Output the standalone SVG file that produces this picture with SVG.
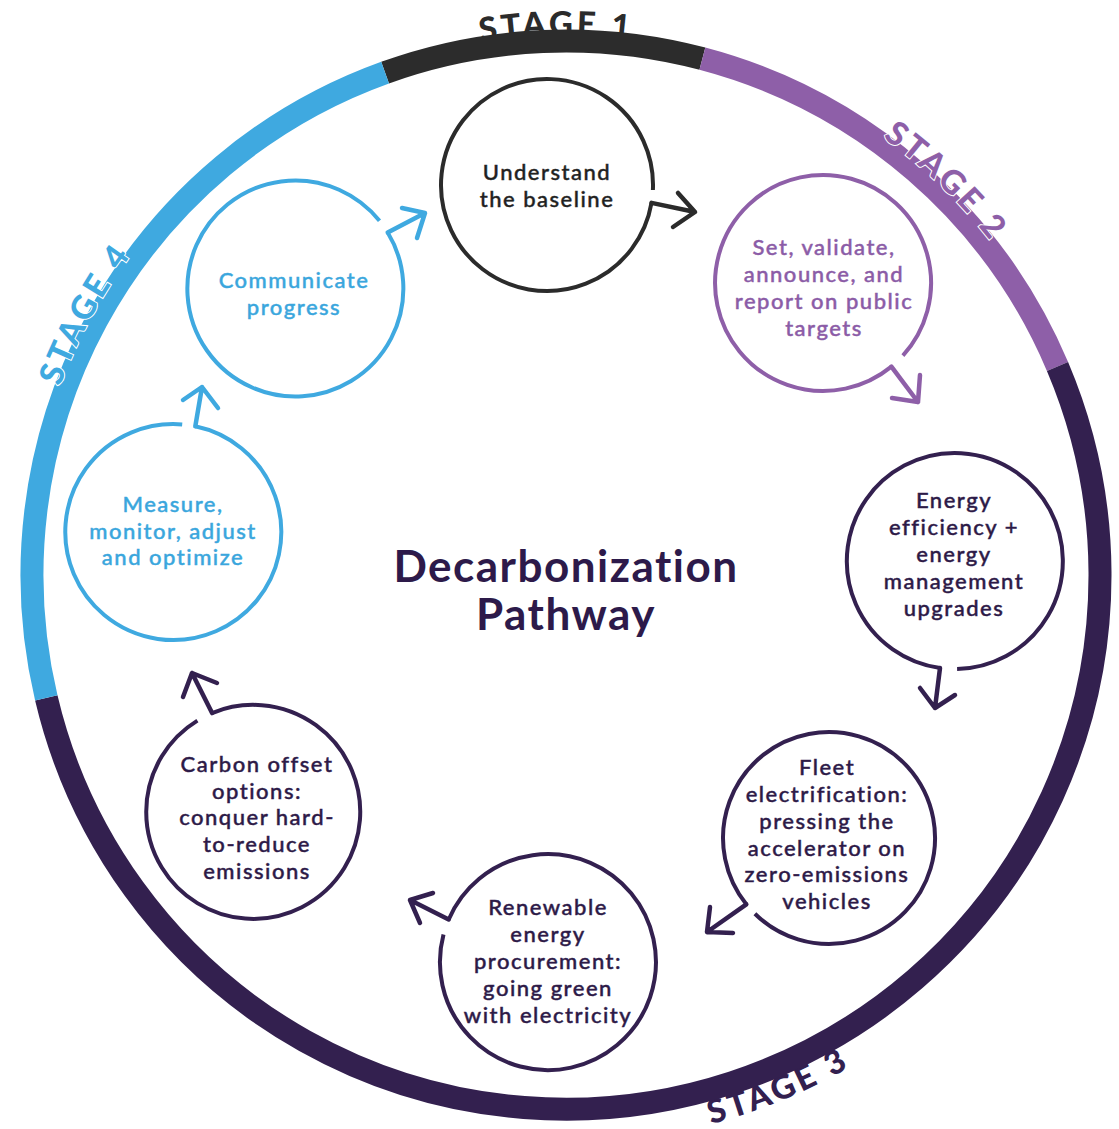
<svg xmlns="http://www.w3.org/2000/svg" width="1119" height="1129" viewBox="0 0 1119 1129">
  <style>
    .ring{fill:none;stroke-width:23}
    .label{font-family:Lato,"Liberation Sans",sans-serif;font-size:22px;font-weight:500;text-anchor:middle;letter-spacing:1.5px}
    .stage{font-family:Lato,"Liberation Sans",sans-serif;font-size:33px;font-weight:900;letter-spacing:3.5px;text-anchor:middle}
    .halo{stroke:#fff;stroke-width:2px;paint-order:stroke}
    .title{font-family:Lato,"Liberation Sans",sans-serif;font-size:44px;font-weight:700;text-anchor:middle;letter-spacing:1.5px;fill:#2d1a4a}
    .k{stroke:#2b2b2b;fill:#1f1f1f}
    .p{stroke:#8e5fa8;fill:#8b5ca7}
    .d{stroke:#33204f;fill:#2c1a45}
    .b{stroke:#3fa9e0;fill:#3aa6dc}
    text.label{stroke-width:0.45px}
    path.node{fill:none;stroke-width:4}
    path.arrow{fill:none;stroke-width:4.5;stroke-linecap:round;stroke-linejoin:round}
  </style>
  <defs>
    <path id="arc-s1" d="M211.7,167.5 A540,540 0 0 1 905.8,155.4"/>
    <path id="arc-s2" d="M603.7,36.3 A540,540 0 0 1 1103.0,518.6"/>
    <path id="arc-s3" d="M395.2,1116.7 A568,568 0 0 0 1069.8,837.2"/>
    <path id="arc-s4" d="M36.9,682.7 A540,540 0 0 1 368.1,72.6"/>
  </defs>
  <rect width="1119" height="1129" fill="#fff"/>

  <!-- stage labels that sit beneath the ring -->
  <g id="stage-labels-under">
    <text class="stage" fill="#2b2b2b"><textPath href="#arc-s1" startOffset="50%">STAGE 1</textPath></text>
    <text class="stage" fill="#33204f"><textPath href="#arc-s3" startOffset="50%">STAGE 3</textPath></text>
  </g>

  <!-- outer ring, one arc per stage -->
  <g id="ring">
    <path class="ring" stroke="#2c2c2c" d="M385.1,72.6 A534,534 0 0 1 702.4,58.7"/>
    <path class="ring" stroke="#8e5fa8" d="M702.4,58.7 A534,534 0 0 1 1057.5,366.4"/>
    <path class="ring" stroke="#33204f" d="M1057.5,366.4 A534,534 0 1 1 46.3,697.9"/>
    <path class="ring" stroke="#3fa9e0" d="M46.3,697.9 A534,534 0 0 1 385.1,72.6"/>
  </g>

  <!-- stage labels drawn over the ring -->
  <g id="stage-labels-over">
    <text class="stage halo" fill="#8e5fa8"><textPath href="#arc-s2" startOffset="50%">STAGE 2</textPath></text>
    <text class="stage halo" fill="#3fa9e0"><textPath href="#arc-s4" startOffset="50%">STAGE 4</textPath></text>
  </g>

  <g id="title">
    <text class="title" x="566" y="582">Decarbonization</text>
    <text class="title" x="566" y="630">Pathway</text>
  </g>

  <g id="node-baseline">
    <path class="node k" d="M651.5,202.9 A106,106 0 1 1 652.9,190.0"/>
    <text class="label k" x="547" y="180">Understand</text>
    <text class="label k" x="547" y="207">the baseline</text>
  </g>

  <g id="node-targets">
    <path class="node p" d="M891.4,366.6 A108,108 0 1 1 902.9,355.7"/>
    <text class="label p" x="824" y="255">Set, validate,</text>
    <text class="label p" x="824" y="282">announce, and</text>
    <text class="label p" x="824" y="309">report on public</text>
    <text class="label p" x="824" y="336">targets</text>
  </g>

  <g id="node-efficiency">
    <path class="node d" d="M940.0,668.0 A108,108 0 1 1 957.1,669.0"/>
    <text class="label d" x="954" y="508">Energy</text>
    <text class="label d" x="954" y="535">efficiency +</text>
    <text class="label d" x="954" y="562">energy</text>
    <text class="label d" x="954" y="589">management</text>
    <text class="label d" x="954" y="616">upgrades</text>
  </g>

  <g id="node-fleet">
    <path class="node d" d="M746.3,904.3 A106,106 0 1 1 754.9,913.8"/>
    <text class="label d" x="827" y="775">Fleet</text>
    <text class="label d" x="827" y="802">electrification:</text>
    <text class="label d" x="827" y="829">pressing the</text>
    <text class="label d" x="827" y="856">accelerator on</text>
    <text class="label d" x="827" y="882">zero-emissions</text>
    <text class="label d" x="827" y="909">vehicles</text>
  </g>

  <g id="node-renewable">
    <path class="node d" d="M448.7,919.5 A108,108 0 1 1 443.5,934.6"/>
    <text class="label d" x="548" y="915">Renewable</text>
    <text class="label d" x="548" y="942">energy</text>
    <text class="label d" x="548" y="969">procurement:</text>
    <text class="label d" x="548" y="996">going green</text>
    <text class="label d" x="548" y="1023">with electricity</text>
  </g>

  <g id="node-offset">
    <path class="node d" d="M212.1,713.1 A107,107 0 1 1 197.4,720.6"/>
    <text class="label d" x="257" y="772">Carbon offset</text>
    <text class="label d" x="257" y="799">options:</text>
    <text class="label d" x="257" y="825">conquer hard-</text>
    <text class="label d" x="257" y="852">to-reduce</text>
    <text class="label d" x="257" y="879">emissions</text>
  </g>

  <g id="node-measure">
    <path class="node b" d="M195.3,426.3 A108,108 0 1 1 182.2,424.4"/>
    <text class="label b" x="173" y="512">Measure,</text>
    <text class="label b" x="173" y="539">monitor, adjust</text>
    <text class="label b" x="173" y="565">and optimize</text>
  </g>

  <g id="node-communicate">
    <path class="node b" d="M387.7,232.5 A108,108 0 1 1 379.5,220.8"/>
    <text class="label b" x="294" y="288">Communicate</text>
    <text class="label b" x="294" y="315">progress</text>
  </g>

  <!-- connectors between steps -->
  <g id="connectors">
    <path class="arrow" stroke="#2b2b2b" d="M651.5,202.9 L695,212 M678,193 L695,212 L673,227"/>
    <path class="arrow" stroke="#8e5fa8" d="M891.4,366.6 L918,402 M892,398 L918,402 L920,375"/>
    <path class="arrow" stroke="#33204f" d="M940,668 L935,708 M920,688 L935,708 L955,695"/>
    <path class="arrow" stroke="#33204f" d="M746.3,904.3 L707,932 M710,907 L707,932 L733,933"/>
    <path class="arrow" stroke="#33204f" d="M448.7,919.5 L410,900 M433,893 L410,900 L420,923"/>
    <path class="arrow" stroke="#33204f" d="M212.1,713.1 L192,673 M183,697 L192,673 L217,683"/>
    <path class="arrow" stroke="#3fa9e0" d="M195.3,426.3 L202,387 M183,400 L202,387 L218,408"/>
    <path class="arrow" stroke="#3fa9e0" d="M387.7,232.5 L425,213 M402,208 L425,213 L417,238"/>
  </g>
</svg>
